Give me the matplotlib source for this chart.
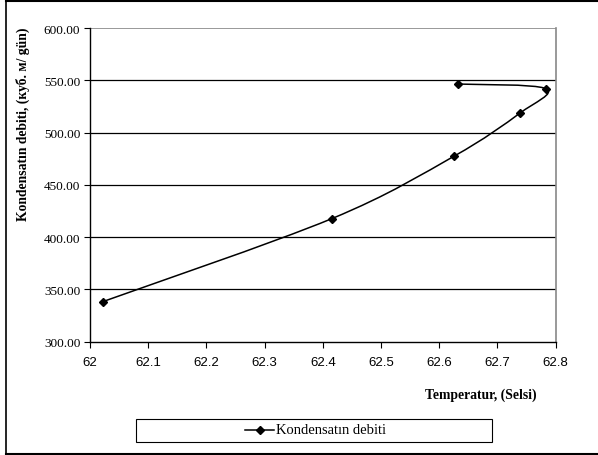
import numpy as np
import matplotlib
matplotlib.use("Agg")
from matplotlib import pyplot as plt
from matplotlib.path import Path
from matplotlib.patches import PathPatch, Rectangle
from matplotlib.lines import Line2D

# data
temperatur = [62.022, 62.415, 62.625, 62.738, 62.783, 62.633]
debit = [338.3, 417.6, 477.3, 518.4, 542.0, 546.4]
xticks = [62, 62.1, 62.2, 62.3, 62.4, 62.5, 62.6, 62.7, 62.8]
yticks = [300, 350, 400, 450, 500, 550, 600]

serif = ["Liberation Serif", "DejaVu Serif"]
sans = ["Liberation Sans", "DejaVu Sans"]


def smooth_path(xs, ys):
    # Excel-style smoothed line: cubic bezier segments through the points
    pts = np.column_stack([xs, ys])
    n = len(pts)
    verts = [pts[0]]
    codes = [Path.MOVETO]
    for i in range(n - 1):
        p0 = pts[i - 1] if i > 0 else pts[i]
        p1 = pts[i]
        p2 = pts[i + 1]
        p3 = pts[i + 2] if i + 2 < n else pts[i + 1]
        c1 = p1 + (p2 - p0) / 6.0
        c2 = p2 - (p3 - p1) / 6.0
        verts += [c1, c2, p2]
        codes += [Path.CURVE4] * 3
    return Path(verts, codes)


fig = plt.figure(figsize=(5.98, 4.56), dpi=100)
ax = fig.add_axes([90 / 598, 1 - 342.7 / 456, 465.7 / 598, 313.7 / 456])

ax.add_patch(PathPatch(smooth_path(temperatur, debit), fill=False,
                       edgecolor="black", lw=1.1, zorder=3))
ax.plot(temperatur, debit, ls="none", marker="D", ms=4.5, color="black", zorder=4)

ax.set_xlim(62, 62.8)
ax.set_ylim(300, 600)
ax.set_xticks(xticks)
ax.set_xticklabels(["%g" % t for t in xticks], family=sans, fontsize=9.5)
ax.set_yticks(yticks)
ax.set_yticklabels(["%.2f" % v for v in yticks], family=serif, fontsize=9.5)
ax.tick_params(direction="out", length=4, width=0.8, color="black", pad=3)
ax.tick_params(axis="x", pad=6)

for v in yticks[1:-1]:
    ax.axhline(v, color="black", lw=0.9, zorder=1)
ax.axhline(600, color="#888888", lw=1.2, zorder=1)

ax.spines["left"].set_color("black")
ax.spines["bottom"].set_color("black")
ax.spines["left"].set_linewidth(1.0)
ax.spines["bottom"].set_linewidth(1.0)
ax.spines["top"].set_visible(False)
ax.spines["right"].set_color("#888888")
ax.spines["right"].set_linewidth(1.2)

fig.text(23 / 598, 1 - 124 / 456, "Kondensatın debiti, (куб. м/ gün)",
         rotation=90, ha="center", va="center", family=serif,
         fontsize=9.8, fontweight="bold")
fig.text(481 / 598, 1 - 395 / 456, "Temperatur, (Selsi)", ha="center",
         va="center", family=serif, fontsize=9.8, fontweight="bold")

# legend box
fig.patches.append(Rectangle((136 / 598, 1 - 442.5 / 456), 356 / 598, 22.5 / 456,
                             transform=fig.transFigure, fill=False,
                             edgecolor="black", lw=0.8))
fig.lines.append(Line2D([245 / 598, 274 / 598], [1 - 431 / 456] * 2,
                        transform=fig.transFigure, color="black", lw=1.1))
fig.lines.append(Line2D([259.5 / 598], [1 - 431 / 456], transform=fig.transFigure,
                        color="black", marker="D", ms=4.5, ls="none"))
fig.text(276 / 598, 1 - 431 / 456, "Kondensatın debiti", ha="left",
         va="center", family=serif, fontsize=10.5)

# outer frame
fig.lines.append(Line2D([5.5 / 598, 5.5 / 598], [1 - 1.5 / 456, 1 - 455 / 456],
                        transform=fig.transFigure, color="black", lw=1.2))
fig.lines.append(Line2D([5.5 / 598, 1], [1 - 1.5 / 456] * 2,
                        transform=fig.transFigure, color="black", lw=1.5))
fig.lines.append(Line2D([5.5 / 598, 1], [1 - 455 / 456] * 2,
                        transform=fig.transFigure, color="black", lw=1.5))

fig.savefig("out.png", dpi=100)
